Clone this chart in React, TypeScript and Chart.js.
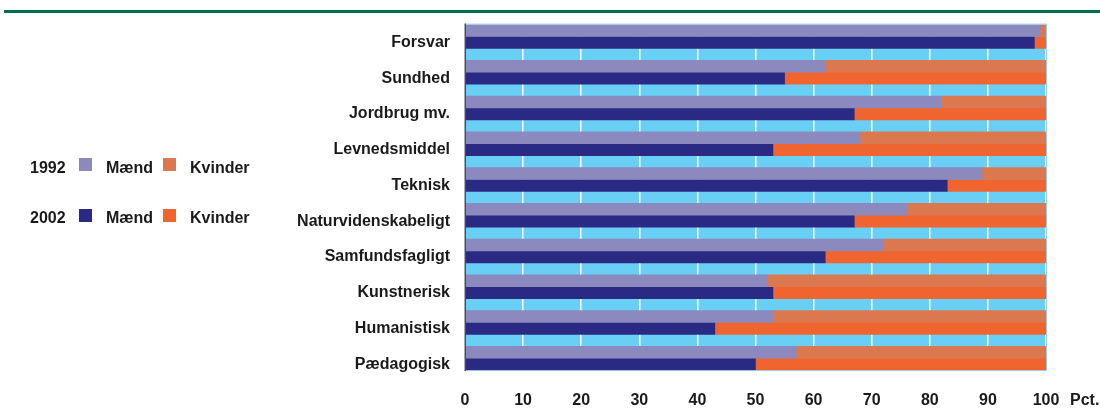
import React, { useEffect, useRef } from "react";
import { Chart, registerables } from "chart.js";

Chart.register(...registerables);

const categories = [
  "Forsvar",
  "Sundhed",
  "Jordbrug mv.",
  "Levnedsmiddel",
  "Teknisk",
  "Naturvidenskabeligt",
  "Samfundsfagligt",
  "Kunstnerisk",
  "Humanistisk",
  "Pædagogisk",
];
const maend1992 = [99, 62, 82, 68, 89, 76, 72, 52, 53, 57];
const kvinder1992 = [1, 38, 18, 32, 11, 24, 28, 48, 47, 43];
const maend2002 = [98, 55, 67, 53, 83, 67, 62, 53, 43, 50];
const kvinder2002 = [2, 45, 33, 47, 17, 33, 38, 47, 57, 50];
const xTicks = [0, 10, 20, 30, 40, 50, 60, 70, 80, 90, 100];

const C_M92 = "#8b89bd";
const C_K92 = "#dc7850";
const C_M02 = "#2a2a85";
const C_K02 = "#f06430";
const C_BG = "#6acff5";
const FONT = '"Liberation Sans", Arial, sans-serif';
const TEXT = "#1a1a1a";

const framePlugin = {
  id: "frame",
  beforeDraw(chart: any) {
    const { ctx, chartArea } = chart;
    const n = chart.data.labels.length;
    const pitch = (chartArea.bottom - chartArea.top) / n;
    const bgBottom = chartArea.bottom - pitch / 3;
    ctx.save();
    ctx.fillStyle = C_BG;
    ctx.fillRect(chartArea.left, chartArea.top, chartArea.right - chartArea.left, bgBottom - chartArea.top);
    ctx.restore();
  },
  afterDatasetsDraw(chart: any) {
    const { ctx, chartArea } = chart;
    const n = chart.data.labels.length;
    const pitch = (chartArea.bottom - chartArea.top) / n;
    const bgBottom = chartArea.bottom - pitch / 3;
    ctx.save();
    ctx.strokeStyle = "#9ccbe6";
    ctx.lineWidth = 1;
    ctx.strokeRect(chartArea.left + 0.5, chartArea.top - 0.5, chartArea.right - chartArea.left, bgBottom - chartArea.top + 1);
    ctx.strokeStyle = "#2b2b4a";
    ctx.lineWidth = 1.2;
    ctx.beginPath();
    ctx.moveTo(chartArea.left + 0.2, chartArea.top - 1);
    ctx.lineTo(chartArea.left + 0.2, bgBottom + 1);
    ctx.stroke();
    ctx.restore();
  },
  afterDraw(chart: any) {
    const { ctx, chartArea } = chart;
    ctx.save();
    ctx.font = `bold 16px ${FONT}`;
    ctx.fillStyle = TEXT;
    ctx.textAlign = "left";
    ctx.textBaseline = "middle";
    ctx.fillText("Pct.", chartArea.right + 24, chartArea.bottom + 19);
    ctx.restore();
  },
};

function App() {
  const canvasRef = useRef<HTMLCanvasElement | null>(null);

  useEffect(() => {
    const canvas = canvasRef.current;
    if (!canvas) return;
    const chart = new Chart(canvas, {
      type: "bar",
      data: {
        labels: categories,
        datasets: [
          { label: "1992 Mænd", data: maend1992, backgroundColor: C_M92, stack: "a" },
          { label: "1992 Kvinder", data: kvinder1992, backgroundColor: C_K92, stack: "a" },
          { label: "2002 Mænd", data: maend2002, backgroundColor: C_M02, stack: "b" },
          { label: "2002 Kvinder", data: kvinder2002, backgroundColor: C_K02, stack: "b" },
          { label: "gap", data: categories.map(() => 0), backgroundColor: "rgba(0,0,0,0)", stack: "c" },
        ],
      },
      options: {
        indexAxis: "y",
        responsive: false,
        animation: false,
        devicePixelRatio: 1,
        datasets: {
          bar: { barPercentage: 1, categoryPercentage: 1, borderWidth: 0 },
        },
        layout: { padding: { top: 22, right: 54, left: 0, bottom: 0 } },
        plugins: {
          legend: { display: false },
          tooltip: { enabled: false },
        },
        scales: {
          x: {
            stacked: true,
            min: 0,
            max: 100,
            afterFit: (axis: any) => {
              axis.height = 32;
            },
            afterBuildTicks: (axis: any) => {
              axis.ticks = xTicks.map((v) => ({ value: v }));
            },
            border: { display: false },
            grid: { color: "#ffffff", lineWidth: 1.5, drawTicks: false },
            ticks: {
              padding: 9,
              color: TEXT,
              font: { family: FONT, size: 16, weight: "bold" },
              maxRotation: 0,
              autoSkip: false,
            },
          },
          y: {
            stacked: true,
            afterFit: (axis: any) => {
              axis.width = 465;
            },
            border: { display: false },
            grid: { display: false, drawTicks: false },
            ticks: {
              padding: 15,
              color: TEXT,
              font: { family: FONT, size: 16, weight: "bold" },
              autoSkip: false,
            },
          },
        },
      },
      plugins: [framePlugin],
    } as any);
    return () => chart.destroy();
  }, []);

  const txt: React.CSSProperties = {
    position: "absolute",
    font: `bold 16px ${FONT}`,
    lineHeight: "16px",
    color: TEXT,
    whiteSpace: "nowrap",
  };
  const box = (x: number, y: number, c: string): React.CSSProperties => ({
    position: "absolute",
    left: x,
    top: y,
    width: 13,
    height: 13,
    background: c,
  });

  return (
    <div style={{ position: "fixed", left: 0, top: 0, width: 1100, height: 414, background: "#ffffff", overflow: "hidden" }}>
      <div style={{ position: "absolute", left: 4, top: 10, width: 1096, height: 3, background: "#00704a" }} />
      <canvas ref={canvasRef} width={1100} height={414} style={{ position: "absolute", left: 0, top: 0, width: 1100, height: 414 }} />
      <div style={{ ...txt, left: 30, top: 159.5 }}>1992</div>
      <div style={box(79, 158, C_M92)} />
      <div style={{ ...txt, left: 106, top: 159.5 }}>Mænd</div>
      <div style={box(163, 158, C_K92)} />
      <div style={{ ...txt, left: 190, top: 159.5 }}>Kvinder</div>
      <div style={{ ...txt, left: 30, top: 209.5 }}>2002</div>
      <div style={box(79, 209, C_M02)} />
      <div style={{ ...txt, left: 106, top: 209.5 }}>Mænd</div>
      <div style={box(163, 209, C_K02)} />
      <div style={{ ...txt, left: 190, top: 209.5 }}>Kvinder</div>
    </div>
  );
}

export default App;
